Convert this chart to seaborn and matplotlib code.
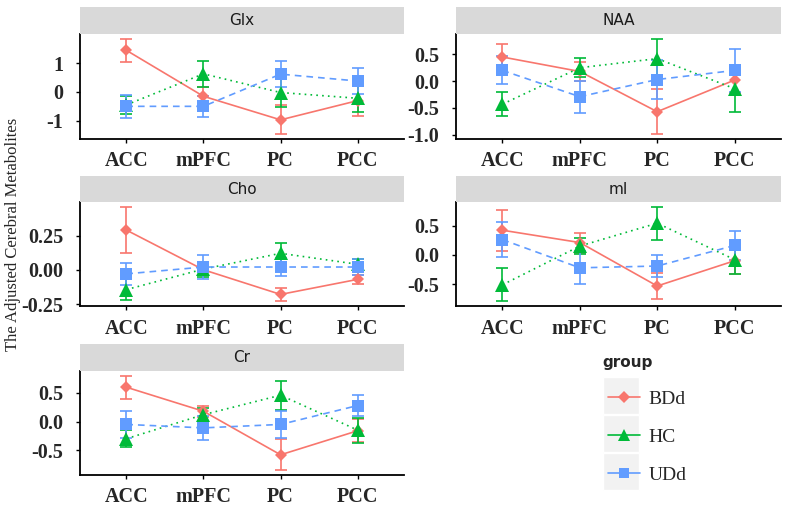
import numpy as np
import pandas as pd
import matplotlib
matplotlib.use("Agg")
import matplotlib.pyplot as plt
from matplotlib.lines import Line2D
from matplotlib.patches import Rectangle
import seaborn as sns

# ---------------- data ----------------
regions = ["ACC", "mPFC", "PC", "PCC"]
groups = ["BDd", "HC", "UDd"]
metabolites = ["Glx", "NAA", "Cho", "mI", "Cr"]

glx_mean = {"BDd": [1.45, -0.15, -0.97, -0.30],
            "HC": [-0.45, 0.63, -0.02, -0.22],
            "UDd": [-0.50, -0.50, 0.62, 0.38]}
glx_err = {"BDd": [0.40, 0.32, 0.50, 0.55],
           "HC": [0.32, 0.44, 0.50, 0.48],
           "UDd": [0.40, 0.37, 0.44, 0.44]}

naa_mean = {"BDd": [0.45, 0.18, -0.57, 0.02],
            "HC": [-0.43, 0.25, 0.42, -0.14],
            "UDd": [0.20, -0.29, 0.03, 0.20]}
naa_err = {"BDd": [0.25, 0.17, 0.42, 0.25],
           "HC": [0.22, 0.18, 0.37, 0.44],
           "UDd": [0.26, 0.30, 0.36, 0.40]}

cho_mean = {"BDd": [0.29, 0.00, -0.18, -0.07],
            "HC": [-0.145, 0.005, 0.12, 0.04],
            "UDd": [-0.03, 0.02, 0.02, 0.02]}
cho_err = {"BDd": [0.17, 0.04, 0.05, 0.035],
           "HC": [0.075, 0.055, 0.075, 0.04],
           "UDd": [0.08, 0.09, 0.065, 0.055]}

mi_mean = {"BDd": [0.42, 0.21, -0.53, -0.10],
           "HC": [-0.51, 0.15, 0.54, -0.08],
           "UDd": [0.26, -0.22, -0.19, 0.16]}
mi_err = {"BDd": [0.35, 0.17, 0.22, 0.22],
          "HC": [0.28, 0.14, 0.28, 0.25],
          "UDd": [0.30, 0.28, 0.18, 0.24]}

cr_mean = {"BDd": [0.60, 0.18, -0.58, -0.16],
           "HC": [-0.30, 0.12, 0.46, -0.15],
           "UDd": [-0.05, -0.11, -0.05, 0.28]}
cr_err = {"BDd": [0.20, 0.10, 0.27, 0.20],
          "HC": [0.15, 0.11, 0.25, 0.22],
          "UDd": [0.23, 0.21, 0.23, 0.19]}

yticks = {"Glx": [-1, 0, 1], "NAA": [-1.0, -0.5, 0.0, 0.5],
          "Cho": [-0.25, 0.0, 0.25], "mI": [-0.5, 0.0, 0.5],
          "Cr": [-0.5, 0.0, 0.5]}
ytick_labels = {"Glx": ["-1", "0", "1"], "NAA": ["-1.0", "-0.5", "0.0", "0.5"],
                "Cho": ["-0.25", "0.00", "0.25"], "mI": ["-0.5", "0.0", "0.5"],
                "Cr": ["-0.5", "0.0", "0.5"]}

means = {"Glx": glx_mean, "NAA": naa_mean, "Cho": cho_mean, "mI": mi_mean, "Cr": cr_mean}
errs = {"Glx": glx_err, "NAA": naa_err, "Cho": cho_err, "mI": mi_err, "Cr": cr_err}

rows = []
for m in metabolites:
    for g in groups:
        for r, mu, e in zip(regions, means[m][g], errs[m][g]):
            rows.append({"metabolite": m, "group": g, "region": r, "value": mu, "err": e})
df = pd.DataFrame(rows)

# ---------------- style ----------------
sns.set_theme(style="white")
plt.rcParams["font.family"] = ["DejaVu Sans"]
palette = {"BDd": "#F8766D", "HC": "#00BA38", "UDd": "#619CFF"}
markers = {"BDd": "D", "HC": "^", "UDd": "s"}
msizes = {"BDd": 6.5, "HC": 9.5, "UDd": 8.5}
dashes = {"BDd": "", "HC": (1, 2.5), "UDd": (4, 3)}

W, H = 787, 515
fig = plt.figure(figsize=(W / 100, H / 100), dpi=100)

def fx(px):
    return px / W

def fy(px):
    return 1 - px / H

cols = [(80, 404), (456, 781)]
rowpos = [((7, 34), (34, 139)), ((176, 202), (202, 306)), ((344, 371), (371, 475))]
layout = {"Glx": (0, 0), "NAA": (0, 1), "Cho": (1, 0), "mI": (1, 1), "Cr": (2, 0)}

tickfont = dict(family="Liberation Serif", weight="bold", size=14.5)

for m in metabolites:
    r, c = layout[m]
    (s0, s1), (p0, p1) = rowpos[r]
    x0, x1 = cols[c]
    ax = fig.add_axes([fx(x0), fy(p1), fx(x1 - x0), (p1 - p0) / H])
    sub = df[df["metabolite"] == m]
    for g in groups:
        gs = sub[sub["group"] == g]
        ax.errorbar(gs["region"], gs["value"], yerr=gs["err"], fmt="none",
                    ecolor=palette[g], elinewidth=1.2, capsize=4, capthick=1.2, zorder=2)
    for g in groups:
        gs = sub[sub["group"] == g]
        sns.lineplot(data=gs, x="region", y="value", color=palette[g],
                     marker=markers[g], markersize=msizes[g], markeredgewidth=0,
                     linewidth=1.2, sort=False, ax=ax, zorder=3, legend=False)
        line = ax.lines[-1]
        if dashes[g]:
            line.set_dashes(dashes[g])
        else:
            line.set_linestyle("-")
    lo = (sub["value"] - sub["err"]).min()
    hi = (sub["value"] + sub["err"]).max()
    pad = 0.05 * (hi - lo)
    ax.set_ylim(lo - pad, hi + pad)
    ax.set_xlim(-0.6, 3.6)
    ax.set_yticks(yticks[m])
    ax.set_yticklabels(ytick_labels[m], fontdict=tickfont)
    ax.set_xticks(range(len(regions)))
    ax.set_xticklabels(regions, fontdict=tickfont)
    ax.set_xlabel("")
    ax.set_ylabel("")
    for s in ["top", "right"]:
        ax.spines[s].set_visible(False)
    for s in ["left", "bottom"]:
        ax.spines[s].set_color("black")
        ax.spines[s].set_linewidth(1.3)
    ax.tick_params(axis="both", which="both", length=3, width=1, color="black",
                   direction="out", bottom=True, left=True, pad=6)
    ax.tick_params(axis="y", pad=9)
    ax.set_facecolor("white")
    # strip
    sax = fig.add_axes([fx(x0), fy(s1), fx(x1 - x0), (s1 - s0) / H])
    sax.set_facecolor("#D9D9D9")
    sax.set_xticks([])
    sax.set_yticks([])
    for s in sax.spines.values():
        s.set_visible(False)
    sax.text(0.5, 0.5, m, ha="center", va="center", fontsize=11,
             family="DejaVu Sans", color="#1a1a1a", transform=sax.transAxes)

fig.text(fx(13), fy(234), "The Adjusted Cerebral Metabolites", rotation=90,
         ha="center", va="center", family="Liberation Serif", fontsize=12)

# legend
fig.text(fx(602), fy(363), "group", ha="left", va="center", fontsize=11,
         fontweight="bold", family="DejaVu Sans")
handles = [Line2D([], [], color=palette[g], marker=markers[g], markersize=msizes[g] * 0.9,
                  markeredgewidth=0, linewidth=1.2) for g in groups]
key_tops = [377, 415, 453]
for kt in key_tops:
    fig.patches.append(Rectangle((fx(603), fy(kt + 37)), fx(36), 37 / H,
                                 transform=fig.transFigure, facecolor="#F2F2F2",
                                 edgecolor="white", linewidth=1, zorder=0))
leg = fig.legend(handles, groups, loc="upper left",
                 bbox_to_anchor=(fx(590), fy(373)), frameon=False,
                 handlelength=1.65, handletextpad=0.45, labelspacing=1.05,
                 prop=dict(family="Liberation Serif", size=14))

fig.savefig("out.png", dpi=100, facecolor="white")
